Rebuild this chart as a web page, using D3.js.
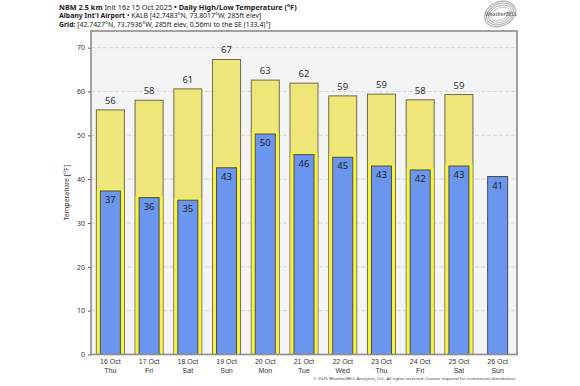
<!DOCTYPE html>
<html>
<head>
<meta charset="utf-8">
<script src="https://cdn.jsdelivr.net/npm/d3@7"></script>
<style>
  body { margin: 0; background: #fff; }
  svg { display: block; font-family: "Noto Sans", "Open Sans", sans-serif; }
</style>
</head>
<body>
<script>
// données
const jours = ["16 Oct", "17 Oct", "18 Oct", "19 Oct", "20 Oct", "21 Oct", "22 Oct", "23 Oct", "24 Oct", "25 Oct", "26 Oct"];
const joursSemaine = ["Thu", "Fri", "Sat", "Sun", "Mon", "Tue", "Wed", "Thu", "Fri", "Sat", "Sun"];
const maxi = [55.8, 58.0, 60.6, 67.3, 62.6, 61.9, 59.0, 59.4, 58.1, 59.3, null];
const mini = [37.3, 35.8, 35.2, 42.6, 50.3, 45.6, 45.0, 43.0, 42.1, 43.0, 40.6];
const ticksY = [0, 10, 20, 30, 40, 50, 60, 70];

const largeur = 580, hauteur = 386;
const marge = { gauche: 91, droite: 517, haut: 31, bas: 354.5 };

const svg = d3.select("body").append("svg")
  .attr("width", largeur)
  .attr("height", hauteur);

// titre
const titre = svg.append("text").attr("x", 59).attr("y", 9.5).style("font-size", "7.3px").attr("fill", "#222");
titre.append("tspan").attr("font-weight", "bold").text("NBM 2.5 km");
titre.append("tspan").text(" Init 16z 15 Oct 2025 ");
titre.append("tspan").attr("font-weight", "bold").text("• Daily High/Low Temperature (°F)");

const titre2 = svg.append("text").attr("x", 59).attr("y", 18).style("font-size", "6.9px").attr("fill", "#222");
titre2.append("tspan").attr("font-weight", "bold").text("Albany Int'l Airport");
titre2.append("tspan").text(" • KALB [42.7483°N, 73.8017°W, 285ft elev]");

const titre3 = svg.append("text").attr("x", 59).attr("y", 26.5).style("font-size", "6.9px").attr("fill", "#222");
titre3.append("tspan").attr("font-weight", "bold").text("Grid:");
titre3.append("tspan").text(" [42.7427°N, 73.7936°W, 285ft elev, 0.56mi to the SE (133.4)°]");

// logo
const logo = svg.append("g").attr("transform", "translate(500,14)");
[12, 10, 8, 6].forEach((r, i) => {
  logo.append("ellipse").attr("rx", r + 4).attr("ry", r)
    .attr("fill", "none").attr("stroke", "#bdbdbd").attr("stroke-width", 1.6 - i * 0.25)
    .attr("transform", "rotate(-25)");
});
logo.append("text").attr("x", 1).attr("y", 2).attr("text-anchor", "middle")
  .style("font-size", "4.8px").attr("font-weight", "bold").attr("fill", "#7a7a7a").text("WeatherBELL");

// échelles
const x = d3.scaleBand().domain(jours).range([marge.gauche, marge.droite]);
const y = d3.scaleLinear().domain([0, 73.8]).range([marge.bas, marge.haut]);

// fond
svg.append("rect")
  .attr("x", marge.gauche).attr("y", marge.haut)
  .attr("width", marge.droite - marge.gauche).attr("height", marge.bas - marge.haut)
  .attr("fill", "#f4f4f4");

// grille
svg.append("g").selectAll("line").data(ticksY.slice(1)).join("line")
  .attr("x1", marge.gauche).attr("x2", marge.droite)
  .attr("y1", d => y(d)).attr("y2", d => y(d))
  .attr("stroke", "#d0d0d0").attr("stroke-width", 0.8).attr("stroke-dasharray", "4,2");

const lh = 28, lb = 20;
const donnees = jours.map((j, i) => ({ jour: j, haut: maxi[i], bas: mini[i] }));

// barres hautes
const barres = svg.append("g");
donnees.filter(d => d.haut != null).forEach(d => {
  const cx = x(d.jour) + x.bandwidth() / 2;
  barres.append("rect")
    .attr("x", cx - lh / 2).attr("y", y(d.haut))
    .attr("width", lh).attr("height", y(0) - y(d.haut))
    .attr("fill", "#efe67a").attr("stroke", "#6f6a4c").attr("stroke-width", 1);
  barres.append("rect")
    .attr("x", cx - lh / 2 + 0.5).attr("y", y(d.bas) - 1.5)
    .attr("width", lh - 1).attr("height", y(0) - y(d.bas) + 1.5)
    .attr("fill", "#f8f43c");
  barres.append("text")
    .attr("x", cx).attr("y", y(d.haut) - 6)
    .attr("text-anchor", "middle").style("font-size", "9.5px").attr("fill", "#333")
    .text(Math.round(d.haut));
});

// barres basses
donnees.forEach(d => {
  const cx = x(d.jour) + x.bandwidth() / 2;
  barres.append("rect")
    .attr("x", cx - lb / 2).attr("y", y(d.bas))
    .attr("width", lb).attr("height", y(0) - y(d.bas))
    .attr("fill", "#6a96ee").attr("stroke", "#4a4a55").attr("stroke-width", 1);
  barres.append("text")
    .attr("x", cx).attr("y", y(d.bas) + 12)
    .attr("text-anchor", "middle").style("font-size", "9.5px").attr("fill", "#222")
    .text(Math.round(d.bas));
});

// cadre
svg.append("rect")
  .attr("x", marge.gauche).attr("y", marge.haut)
  .attr("width", marge.droite - marge.gauche).attr("height", marge.bas - marge.haut)
  .attr("fill", "none").attr("stroke", "#8c8c8c").attr("stroke-width", 1.6);

// axe y
const axeY = svg.append("g")
  .attr("transform", `translate(${marge.gauche},0)`)
  .call(d3.axisLeft(y).tickValues(ticksY).tickSize(3).tickPadding(3));
axeY.select(".domain").remove();
axeY.selectAll("line").attr("stroke", "#666");
axeY.selectAll("text").style("font-size", "7px").attr("fill", "#333").style("font-family", "Noto Sans, sans-serif");

svg.append("text")
  .attr("transform", `translate(69,${(marge.haut + marge.bas) / 2}) rotate(-90)`)
  .attr("text-anchor", "middle").style("font-size", "7px").attr("fill", "#333")
  .text("Temperature [°F]");

// axe x
const axeX = svg.append("g")
  .attr("transform", `translate(0,${marge.bas})`)
  .call(d3.axisBottom(x).tickSize(0).tickPadding(4));
axeX.select(".domain").remove();
axeX.selectAll("text").remove();
axeX.selectAll(".tick").append("text")
  .attr("y", 9).attr("text-anchor", "middle").style("font-size", "7px").attr("fill", "#333")
  .text(d => d);
axeX.selectAll(".tick").append("text")
  .attr("y", 18).attr("text-anchor", "middle").style("font-size", "7px").attr("fill", "#333")
  .text((d, i) => joursSemaine[i]);

// copyright
svg.append("text")
  .attr("x", 516).attr("y", 380).attr("text-anchor", "end")
  .style("font-size", "4.3px").attr("fill", "#444")
  .text("© 2025 WeatherBELL Analytics, LLC. All rights reserved. License required for commercial distribution.");
</script>
</body>
</html>
